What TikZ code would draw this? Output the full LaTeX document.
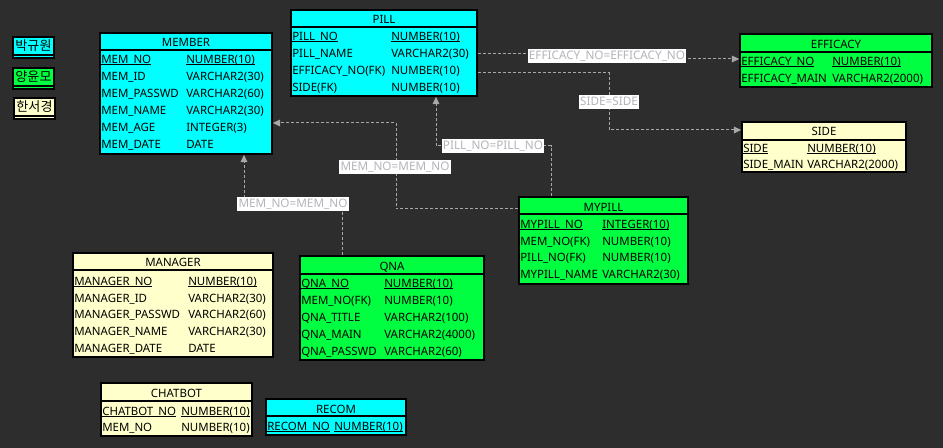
\documentclass[tikz,border=0pt]{standalone}
\usepackage{fontspec}
\setmainfont{Noto Sans}
\newfontfamily\kofont{Noto Sans CJK KR}
\usetikzlibrary{arrows.meta}
\definecolor{bgc}{HTML}{2D2D2D}
\definecolor{cy}{HTML}{00FFFF}
\definecolor{gr}{HTML}{00FF40}
\definecolor{ye}{HTML}{FFFFCC}
\definecolor{lc}{HTML}{A8A8A8}
\definecolor{lblc}{HTML}{B4B4BC}
\newcommand\pkul[1]{\setbox0\hbox{#1}\rlap{\rule[-1.3pt]{\wd0}{0.6pt}}\box0}
\newcommand\ent[7]{%
  \node[ebox, fill=#7, minimum width={(#4-#2)*0.75pt}, minimum height={(#5-#3)*0.75pt}] (#1) at ({(#2+#4)/2},{(#3+#5)/2}) {};
  \draw[hdr] (#2,#6) -- (#4,#6);}
\newcommand\etitle[4]{\node[rt, anchor=base] (#1-t) at (#2,{#3+0.5}) {#4};}
\newcommand\er[6]{\node[rt] (#1a) at (#2,{#4+0.5}) {#5}; \node[rt] (#1b) at (#3,{#4+0.5}) {#6};}
\newcommand\pk[6]{\node[rt] (#1a) at (#2,{#4+0.5}) {\pkul{#5}}; \node[rt] (#1b) at (#3,{#4+0.5}) {\pkul{#6}};}
\begin{document}
\begin{tikzpicture}[x=0.75pt,y=-0.75pt,
  ebox/.style={draw=black, line width=1.2pt, inner sep=0pt},
  hdr/.style={draw=black, line width=0.8pt},
  rt/.style={anchor=base west, inner sep=0pt, text=black, font=\fontsize{8.6pt}{10pt}\selectfont},
  rel/.style={draw=lc, line width=0.75pt, dash pattern=on 2.25pt off 1.5pt, -{Triangle[length=5.5pt,width=5pt]}},
  lbl/.style={fill=white, text=lblc, inner xsep=1pt, inner ysep=0.75pt, text height=7pt, text depth=2pt, font=\fontsize{8.8pt}{10pt}\selectfont},
  legbox/.style={draw=black, line width=1pt, inner sep=0pt, minimum width={41*0.75pt}, minimum height={21*0.75pt}},
  legtxt/.style={inner sep=0pt, text=black, font=\kofont\fontsize{9.8pt}{10pt}\selectfont}
]
\fill[bgc] (0,0) rectangle (943,448);
\useasboundingbox (0,0) rectangle (943,448);

% legend
\node[legbox, fill=cy] (lg1) at (33.5,47.5) {};
\draw[hdr] (13,55) -- (54,55);
\node[legtxt] (lg1-t) at (33.5,45.5) {박규원};
\node[legbox, fill=gr] (lg2) at (33.5,78.5) {};
\draw[hdr] (13,86) -- (54,86);
\node[legtxt] (lg2-t) at (33.5,76.5) {양윤모};
\node[legbox, fill=ye] (lg3) at (34.5,108.5) {};
\draw[hdr] (14,116) -- (55,116);
\node[legtxt] (lg3-t) at (34.5,106.5) {한서경};

% MEMBER
\ent{member}{100}{33}{272}{154}{50}{cy}
\etitle{member}{186}{46}{MEMBER}
\pk{member-1}{101}{186}{63}{MEM\_NO}{NUMBER(10)}
\er{member-2}{101}{186}{80}{MEM\_ID}{VARCHAR2(30)}
\er{member-3}{101}{186}{97}{MEM\_PASSWD}{VARCHAR2(60)}
\er{member-4}{101}{186}{114}{MEM\_NAME}{VARCHAR2(30)}
\er{member-5}{101}{186}{131}{MEM\_AGE}{INTEGER(3)}
\er{member-6}{101}{186}{148}{MEM\_DATE}{DATE}

% PILL
\ent{pill}{291}{10}{477}{96}{27}{cy}
\etitle{pill}{384}{23}{PILL}
\pk{pill-1}{292}{391}{40}{PILL\_NO}{NUMBER(10)}
\er{pill-2}{292}{391}{57}{PILL\_NAME}{VARCHAR2(30)}
\er{pill-3}{292}{391}{74}{EFFICACY\_NO(FK)}{NUMBER(10)}
\er{pill-4}{292}{391}{91}{SIDE(FK)}{NUMBER(10)}

% EFFICACY
\ent{eff}{740}{34}{932}{87}{52}{gr}
\etitle{eff}{836}{48}{EFFICACY}
\pk{eff-1}{741}{832}{65}{EFFICACY\_NO}{NUMBER(10)}
\er{eff-2}{741}{832}{82}{EFFICACY\_MAIN}{VARCHAR2(2000)}

% SIDE
\ent{side}{742}{122}{906}{172}{140}{ye}
\etitle{side}{824}{135}{SIDE}
\pk{side-1}{743}{807}{152}{SIDE}{NUMBER(10)}
\er{side-2}{743}{807}{168}{SIDE\_MAIN}{VARCHAR2(2000)}

% MYPILL
\ent{mypill}{519}{197}{688}{284}{214}{gr}
\etitle{mypill}{603.5}{211}{MYPILL}
\pk{mypill-1}{520}{602}{228}{MYPILL\_NO}{INTEGER(10)}
\er{mypill-2}{520}{602}{245}{MEM\_NO(FK)}{NUMBER(10)}
\er{mypill-3}{520}{602}{261}{PILL\_NO(FK)}{NUMBER(10)}
\er{mypill-4}{520}{602}{278}{MYPILL\_NAME}{VARCHAR2(30)}

% MANAGER
\ent{manager}{73}{253}{273}{357}{270}{ye}
\etitle{manager}{173}{266}{MANAGER}
\pk{manager-1}{74}{188}{285}{MANAGER\_NO}{NUMBER(10)}
\er{manager-2}{74}{188}{302}{MANAGER\_ID}{VARCHAR2(30)}
\er{manager-3}{74}{188}{318}{MANAGER\_PASSWD}{VARCHAR2(60)}
\er{manager-4}{74}{188}{335}{MANAGER\_NAME}{VARCHAR2(30)}
\er{manager-5}{74}{188}{352}{MANAGER\_DATE}{DATE}

% QNA
\ent{qna}{300}{256}{484}{360}{274}{gr}
\etitle{qna}{392}{270}{QNA}
\pk{qna-1}{301}{384}{287}{QNA\_NO}{NUMBER(10)}
\er{qna-2}{301}{384}{304}{MEM\_NO(FK)}{NUMBER(10)}
\er{qna-3}{301}{384}{321}{QNA\_TITLE}{VARCHAR2(100)}
\er{qna-4}{301}{384}{338}{QNA\_MAIN}{VARCHAR2(4000)}
\er{qna-5}{301}{384}{355}{QNA\_PASSWD}{VARCHAR2(60)}

% CHATBOT
\ent{chatbot}{101}{383}{252}{436}{401}{ye}
\etitle{chatbot}{176.5}{397}{CHATBOT}
\pk{chatbot-1}{102}{181}{415}{CHATBOT\_NO}{NUMBER(10)}
\er{chatbot-2}{102}{181}{431}{MEM\_NO}{NUMBER(10)}

% RECOM
\ent{recom}{266}{399}{406}{435}{416}{cy}
\etitle{recom}{336}{413}{RECOM}
\pk{recom-1}{267}{334}{430}{RECOM\_NO}{NUMBER(10)}

% connectors
\coordinate (e1) at (607,54);
\coordinate (e2) at (607,59);
\draw[rel] (pill.east |- e1) -- (e1) -- (e2) -- (eff.west |- e2);
\node[lbl] (lbl-eff) at (607,56) {EFFICACY\_NO=EFFICACY\_NO};

\coordinate (s1) at (609,73);
\coordinate (s2) at (609,130);
\draw[rel] (pill.east |- s1) -- (s1) -- (s2) -- (side.west |- s2);
\node[lbl] (lbl-side) at (609,102) {SIDE=SIDE};

\coordinate (m1) at (551,146);
\coordinate (m2) at (436,146);
\draw[rel] (mypill.north -| m1) -- (m1) -- (m2) -- (pill.south -| m2);
\node[lbl] (lbl-pill) at (493,146) {PILL\_NO=PILL\_NO};

\coordinate (k1) at (396,209);
\coordinate (k2) at (396,123);
\draw[rel] (mypill.west |- k1) -- (k1) -- (k2) -- (member.east |- k2);
\node[lbl] (lbl-mem1) at (395,167) {MEM\_NO=MEM\_NO};

\coordinate (q1) at (342,204);
\coordinate (q2) at (244,204);
\draw[rel] (qna.north -| q1) -- (q1) -- (q2) -- (member.south -| q2);
\node[lbl] (lbl-mem2) at (293,204) {MEM\_NO=MEM\_NO};
\end{tikzpicture}
\end{document}
